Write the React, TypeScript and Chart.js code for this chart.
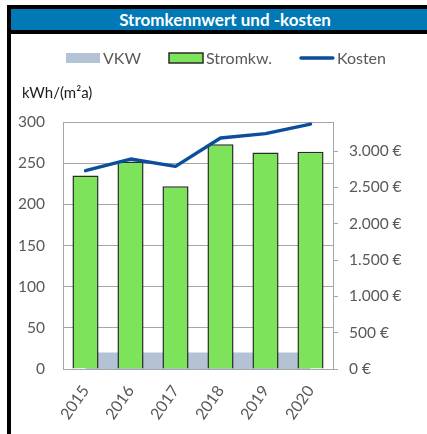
import React, { useEffect, useRef } from "react";
import { Chart, registerables } from "chart.js";

Chart.register(...registerables);

const chartTitle = "Stromkennwert und -kosten";
const unitLabel = "kWh/(m²a)";
const years = ["2015", "2016", "2017", "2018", "2019", "2020"];
const seriesNames = ["VKW", "Stromkw.", "Kosten"];
const vkw = [20, 20, 20, 20, 20, 20];
const stromkw = [235, 252, 222, 273, 263, 264];
const kosten = [2730, 2890, 2790, 3180, 3240, 3370];
const leftTicks = [0, 50, 100, 150, 200, 250, 300];
const rightTicks = [0, 500, 1000, 1500, 2000, 2500, 3000];
const rightMax = 3400;

const FONT = "Lato, 'Open Sans', sans-serif";
const GRID = "#a6a6a6";
const TEXT = "#595959";
const C_VKW = "#b4c2d5";
const C_STROM = "#7ce35a";
const C_STROM_BORDER = "#2b2b2b";
const C_KOSTEN = "#0a4e9c";

const euro = (v: number) =>
  String(Math.round(v)).replace(/\B(?=(\d{3})+(?!\d))/g, ".") + " €";

const overlayPlugin = {
  id: "overlay",
  afterDraw(chart: any) {
    const ctx = chart.ctx as CanvasRenderingContext2D;
    const area = chart.chartArea;
    ctx.save();
    // unit label
    ctx.font = `15px ${FONT}`;
    ctx.fillStyle = "#1a1a1a";
    ctx.textBaseline = "middle";
    ctx.textAlign = "left";
    ctx.fillText(unitLabel, 11, area.top - 29);

    // legend
    ctx.font = `16px ${FONT}`;
    const boxW = 34;
    const gapText = 3;
    const gapItem = 28;
    const widths = seriesNames.map((n) => ctx.measureText(n).width);
    const total =
      widths.reduce((a, w) => a + boxW + gapText + w, 0) +
      gapItem * (seriesNames.length - 1);
    let x = chart.width / 2 + 7 - total / 2;
    const y = area.top - 64;
    seriesNames.forEach((name, i) => {
      if (i === 0) {
        ctx.fillStyle = C_VKW;
        ctx.fillRect(x, y - 5, boxW, 10);
      } else if (i === 1) {
        ctx.fillStyle = C_STROM;
        ctx.fillRect(x, y - 5, boxW, 10);
        ctx.strokeStyle = C_STROM_BORDER;
        ctx.lineWidth = 1.5;
        ctx.strokeRect(x, y - 5, boxW, 10);
      } else {
        ctx.strokeStyle = C_KOSTEN;
        ctx.lineWidth = 3.3;
        ctx.lineCap = "round";
        ctx.beginPath();
        ctx.moveTo(x + 1, y);
        ctx.lineTo(x + boxW - 1, y);
        ctx.stroke();
      }
      ctx.fillStyle = TEXT;
      ctx.fillText(name, x + boxW + gapText, y + 1);
      x += boxW + gapText + widths[i] + gapItem;
    });
    ctx.restore();
  },
};

function ChartCanvas() {
  const ref = useRef<HTMLCanvasElement | null>(null);
  useEffect(() => {
    if (!ref.current) return;
    const chart = new Chart(ref.current, {
      data: {
        labels: years,
        datasets: [
          {
            type: "line",
            label: seriesNames[0],
            data: vkw,
            yAxisID: "y",
            order: 3,
            fill: "origin",
            backgroundColor: C_VKW,
            borderWidth: 0,
            pointRadius: 0,
            tension: 0,
          },
          {
            type: "bar",
            label: seriesNames[1],
            data: stromkw,
            yAxisID: "y",
            order: 2,
            backgroundColor: C_STROM,
            borderColor: C_STROM_BORDER,
            borderWidth: 1.5,
            barPercentage: 0.58,
            categoryPercentage: 1,
          },
          {
            type: "line",
            label: seriesNames[2],
            data: kosten,
            yAxisID: "y1",
            order: 1,
            borderColor: C_KOSTEN,
            borderWidth: 3.4,
            pointRadius: 0,
            fill: false,
            tension: 0,
            borderCapStyle: "round",
            borderJoinStyle: "round",
          },
        ],
      } as any,
      options: {
        animation: false,
        responsive: false,
        maintainAspectRatio: false,
        devicePixelRatio: 1,
        layout: { padding: { left: 0, right: 0, top: 88, bottom: 0 } },
        plugins: {
          legend: { display: false },
          title: { display: false },
          tooltip: { enabled: false },
        },
        scales: {
          x: {
            grid: { display: true, drawOnChartArea: false, drawTicks: false },
            border: { display: true, color: GRID, width: 1 },
            ticks: {
              color: TEXT,
              font: { family: FONT, size: 16 },
              maxRotation: 55,
              minRotation: 55,
              padding: 13,
            },
            afterFit: (s: any) => {
              s.height = 65;
            },
          },
          y: {
            position: "left",
            min: 0,
            max: 300,
            afterBuildTicks: (s: any) => {
              s.ticks = leftTicks.map((v) => ({ value: v }));
            },
            grid: { color: GRID, lineWidth: 1, drawTicks: false },
            border: { display: true, color: GRID, width: 1 },
            ticks: {
              color: TEXT,
              font: { family: FONT, size: 15.5 },
              padding: 18,
            },
            afterFit: (s: any) => {
              s.width = 52;
            },
          },
          y1: {
            position: "right",
            min: 0,
            max: rightMax,
            afterBuildTicks: (s: any) => {
              s.ticks = rightTicks.map((v) => ({ value: v }));
            },
            grid: {
              drawOnChartArea: false,
              color: GRID,
              tickLength: 5,
              drawTicks: true,
            },
            border: { display: true, color: GRID, width: 1 },
            ticks: {
              color: TEXT,
              font: { family: FONT, size: 15.5 },
              padding: 11,
              callback: (v: any) => euro(Number(v)),
            },
            afterFit: (s: any) => {
              s.width = 94;
            },
          },
        },
      } as any,
      plugins: [overlayPlugin],
    });
    return () => chart.destroy();
  }, []);
  return <canvas ref={ref} width={416} height={400} style={{ display: "block", width: 416, height: 400 }} />;
}

export default function App() {
  return (
    <div
      style={{
        position: "fixed",
        left: 0,
        top: 0,
        width: 427,
        height: 434,
        background: "#fff",
        overflow: "hidden",
      }}
    >
      <div style={{ position: "absolute", left: 7, top: 5, width: 420, height: 429, background: "#000" }} />
      <div
        style={{
          position: "absolute",
          left: 11,
          top: 9,
          width: 416,
          height: 21,
          background: "#0079b6",
          color: "#fff",
          fontFamily: FONT,
          fontWeight: 700,
          fontSize: 17,
          lineHeight: "21px",
          textAlign: "center",
          paddingLeft: 12,
          boxSizing: "border-box",
          whiteSpace: "nowrap",
        }}
      >
        {chartTitle}
      </div>
      <div style={{ position: "absolute", left: 11, top: 34, width: 416, height: 400, background: "#fff" }}>
        <ChartCanvas />
      </div>
    </div>
  );
}
